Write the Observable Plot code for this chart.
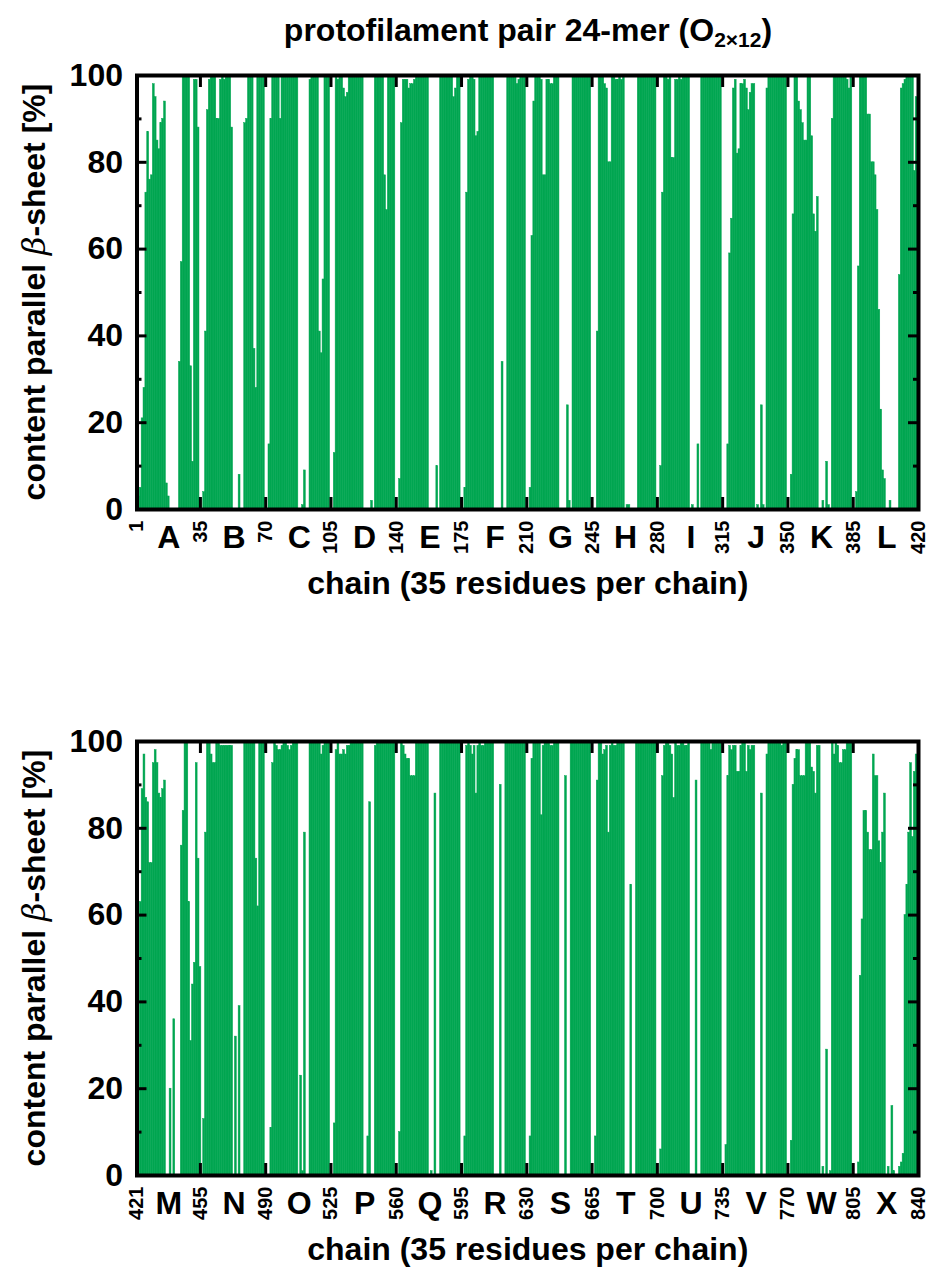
<!DOCTYPE html>
<html>
<head>
<meta charset="utf-8">
<script src="https://cdn.jsdelivr.net/npm/d3@7"></script>
<script src="https://cdn.jsdelivr.net/npm/@observablehq/plot@0.6"></script>
<style>
  body { margin: 0; background: #fff; }
  #wrap { position: relative; width: 935px; height: 1281px; font-family: "Liberation Sans", Arial, Helvetica, sans-serif; color: #000; }
  .abs { position: absolute; }
  .title { left: 528px; top: 30px; transform: translate(-50%, -50%); font-weight: bold; font-size: 32px; white-space: nowrap; z-index: 2; }
  .title sub { font-size: 21px; vertical-align: -6px; line-height: 0; }
  .ylab { font-weight: bold; font-size: 32px; white-space: nowrap; transform: translate(-50%, -50%) rotate(-90deg); z-index: 2; }
  .ylab i { font-weight: normal; font-family: "DejaVu Serif", serif; }
</style>
</head>
<body>
<div id="wrap">
  <div class="abs title">protofilament pair 24-mer (O<sub>2×12</sub>)</div>
  <div class="abs ylab" style="left:34px; top:292px;">content parallel <i>β</i>-sheet [%]</div>
  <div class="abs ylab" style="left:34px; top:958px;">content parallel <i>β</i>-sheet [%]</div>
</div>
<script>
// Per-residue parallel β-sheet content [%], 35 residues per chain.
const chainA = [0,3,5,21,28,73,87,76,77,98,95,85,83,89,90,94,6,3,0,0,0,0,0,34,57,100,100,100,100,33,11,99,99,88,0];
const chainB = [0,4,41,92,99,100,100,100,90,90,99,100,99,100,100,100,88,0,0,0,8,0,0,89,90,100,100,100,37,28,100,100,100,100,0];
const chainC = [0,15,90,100,100,100,100,90,100,100,100,100,100,100,100,100,100,0,0,1,9,0,0,99,100,100,100,100,41,36,53,100,100,100,0];
const chainD = [0,13,100,99,100,100,97,95,96,100,100,100,100,100,100,100,100,0,0,0,0,2,0,100,100,100,100,100,77,69,100,100,100,100,0];
const chainE = [0,7,89,99,99,99,97,98,98,99,100,100,100,100,100,100,100,0,0,0,0,10,0,100,100,100,100,100,100,100,95,97,100,100,0];
const chainF = [0,5,73,99,100,100,99,86,87,100,100,100,100,100,100,100,100,0,0,0,0,34,0,0,100,100,100,100,100,98,99,100,100,100,0];
const chainG = [0,5,63,94,100,100,100,99,77,77,99,99,98,98,100,100,100,0,0,0,0,24,2,0,100,100,100,100,100,100,100,100,100,100,0];
const chainH = [0,0,41,100,100,100,98,97,80,80,100,100,99,99,100,99,100,0,1,1,0,0,0,0,100,100,100,100,100,100,100,100,100,100,0];
const chainI = [0,10,73,100,100,99,100,81,81,99,99,100,99,100,100,100,100,0,1,0,0,15,0,100,100,100,100,100,100,100,100,100,100,100,0];
const chainJ = [0,0,15,59,67,97,99,82,83,98,98,99,97,92,96,98,98,0,1,0,24,1,0,97,100,100,100,100,100,100,100,100,100,100,0];
const chainK = [0,8,68,100,100,94,92,89,85,85,100,100,86,68,64,72,0,0,2,0,11,1,0,90,100,100,100,100,100,100,100,99,97,100,0];
const chainL = [0,4,56,100,100,100,100,91,91,80,80,77,69,46,23,9,7,0,0,2,0,0,0,0,54,97,98,99,100,100,100,100,78,95,90];

const chainM = [0,8,63,89,97,87,86,72,72,95,98,95,88,87,89,91,0,0,20,0,36,0,0,0,76,84,100,100,63,31,44,49,95,73,48];
const chainN = [0,13,79,100,100,97,95,95,100,100,99,99,99,99,99,99,99,0,32,0,39,0,0,100,100,100,100,100,100,73,62,100,100,100,0];
const chainO = [0,0,11,95,100,99,98,98,99,100,100,99,98,99,100,100,100,0,23,1,79,0,0,100,100,100,100,100,100,97,99,100,100,100,0];
const chainP = [0,12,98,100,97,97,98,97,99,99,100,100,100,100,100,100,100,0,0,9,86,0,0,99,100,100,100,100,100,100,100,100,100,100,0];
const chainQ = [0,10,100,99,97,96,96,92,92,92,100,100,100,100,100,100,100,0,1,0,88,0,0,100,100,100,100,100,100,100,100,100,100,100,0];
const chainR = [0,9,99,100,99,97,99,88,99,100,99,99,100,100,100,100,100,0,0,0,90,0,0,100,100,100,100,100,100,100,100,100,100,100,0];
const chainS = [0,9,96,100,100,100,100,83,99,100,100,100,99,99,100,100,100,0,0,0,92,0,0,100,100,100,100,100,100,100,100,100,100,100,0];
const chainT = [0,9,91,100,100,97,98,99,79,99,100,99,99,100,100,100,100,0,0,0,67,0,0,100,100,100,100,100,100,100,100,100,100,100,0];
const chainU = [0,6,92,99,100,100,99,97,87,100,99,99,100,100,99,99,100,0,0,0,91,0,0,100,100,100,100,100,98,100,100,100,100,100,0];
const chainV = [0,7,92,99,98,99,99,93,93,99,100,100,93,99,98,99,99,0,0,0,88,0,0,97,100,100,100,100,100,100,100,99,100,100,0];
const chainW = [0,8,90,96,98,98,92,92,92,100,100,100,94,93,88,99,99,0,2,0,29,0,1,100,97,100,99,95,95,98,98,100,100,100,0];
const chainX = [0,0,3,46,59,84,84,79,75,75,97,92,92,77,72,79,88,0,2,0,16,1,0,0,2,3,5,60,67,79,95,78,93,97,97];

const topLetters = ["A","B","C","D","E","F","G","H","I","J","K","L"];
const bottomLetters = ["M","N","O","P","Q","R","S","T","U","V","W","X"];
const topTicks = [1,35,70,105,140,175,210,245,280,315,350,385,420];
const bottomTicks = [421,455,490,525,560,595,630,665,700,735,770,805,840];
const yMajor = [0,20,40,60,80,100];
const yMinor = [10,30,50,70,90];
const xLabel = "chain (35 residues per chain)";

const GREEN = "#00a651";
const FONT = "'Liberation Sans', Arial, Helvetica, sans-serif";
const W = 935, ML = 136.5, MR = 17;

function panel({chains, letters, ticks, first, height, marginTop, marginBottom}) {
  const last = first + 35 * chains.length - 1;
  const rows = chains.flatMap((vals, c) => vals.map((v, i) => ({res: first + 35 * c + i, v})));
  const mids = letters.map((name, c) => ({name, res: first + 35 * c + 17}));
  const inner = ticks.slice(1, -1);
  // tick lengths in data units (inward ticks on all four sides of the frame)
  const resPerPx = (last - first) / (W - ML - MR);
  const valPerPx = 100 / (height - marginTop - marginBottom);
  const xMaj = 10 * resPerPx, xMin = 5 * resPerPx, yLen = 12 * valPerPx;
  const tickStyle = {stroke: "black", strokeWidth: 3};
  return Plot.plot({
    width: W, height,
    marginLeft: ML, marginRight: MR, marginTop, marginBottom,
    style: {fontFamily: FONT, background: "white", color: "black"},
    x: {domain: [first, last]},
    y: {domain: [0, 100]},
    marks: [
      Plot.rect(rows, {
        x1: d => d.res - 0.5, x2: d => d.res + 0.5, y1: () => 0, y2: "v",
        fill: GREEN, stroke: GREEN, strokeWidth: 0.5, clip: true
      }),
      Plot.ruleX(inner, {x: d => d, y1: () => 0, y2: () => yLen, ...tickStyle}),
      Plot.ruleX(inner, {x: d => d, y1: () => 100 - yLen, y2: () => 100, ...tickStyle}),
      Plot.ruleY(yMajor.slice(1, -1), {y: d => d, x1: () => first, x2: () => first + xMaj, ...tickStyle}),
      Plot.ruleY(yMinor, {y: d => d, x1: () => first, x2: () => first + xMin, ...tickStyle}),
      Plot.ruleY(yMajor.slice(1, -1), {y: d => d, x1: () => last - xMaj, x2: () => last, ...tickStyle}),
      Plot.ruleY(yMinor, {y: d => d, x1: () => last - xMin, x2: () => last, ...tickStyle}),
      Plot.frame({stroke: "black", strokeWidth: 4}),
      Plot.axisY({ticks: yMajor, tickSize: 0, tickPadding: 14, fontSize: 32, fontWeight: "bold", label: null}),
      Plot.axisX({ticks, tickSize: 0, tickPadding: 11, tickRotate: -90, fontSize: 20, fontWeight: "bold", label: null, tickFormat: d => String(d)}),
      Plot.text(mids, {x: "res", y: () => 0, text: "name", dy: 28, fontSize: 32, fontWeight: "bold"}),
      Plot.text([xLabel], {text: d => d, frameAnchor: "bottom", dy: 84, fontSize: 32, fontWeight: "bold"})
    ]
  });
}

const wrap = document.getElementById("wrap");

const topPanel = panel({
  chains: [chainA, chainB, chainC, chainD, chainE, chainF, chainG, chainH, chainI, chainJ, chainK, chainL],
  letters: topLetters, ticks: topTicks, first: 1,
  height: 620, marginTop: 75, marginBottom: 111
});
topPanel.style.position = "absolute"; topPanel.style.left = "0px"; topPanel.style.top = "0px";
wrap.insertBefore(topPanel, wrap.firstChild);

const bottomPanel = panel({
  chains: [chainM, chainN, chainO, chainP, chainQ, chainR, chainS, chainT, chainU, chainV, chainW, chainX],
  letters: bottomLetters, ticks: bottomTicks, first: 421,
  height: 641, marginTop: 101, marginBottom: 106
});
bottomPanel.style.position = "absolute"; bottomPanel.style.left = "0px"; bottomPanel.style.top = "640px";
wrap.insertBefore(bottomPanel, wrap.firstChild);
</script>
</body>
</html>
